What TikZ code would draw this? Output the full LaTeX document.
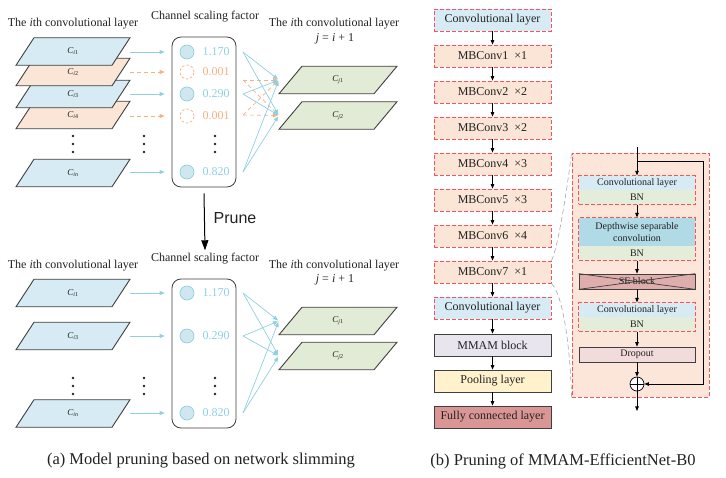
\documentclass[tikz,border=0pt]{standalone}
\usepackage{fontspec}
\setmainfont{Liberation Serif}
\newfontfamily\prunefont{Liberation Sans}
\usetikzlibrary{arrows.meta,fit}
\definecolor{lblue}{HTML}{D6EBF3}
\definecolor{lorange}{HTML}{FBE5D6}
\definecolor{lgreen}{HTML}{E2EBD5}
\definecolor{arrblue}{HTML}{8FD0E3}
\definecolor{arrorange}{HTML}{F4B183}
\definecolor{circfill}{HTML}{D0E7F0}
\definecolor{redd}{HTML}{F4555A}
\definecolor{mmamc}{HTML}{E8E5EF}
\definecolor{poolc}{HTML}{FFF2CC}
\definecolor{fcc}{HTML}{D99694}
\definecolor{depthc}{HTML}{B0DAE6}
\definecolor{bngreen}{HTML}{E4EDDA}
\definecolor{sered}{HTML}{DFAEAC}
\definecolor{dropc}{HTML}{F2DCDB}
\definecolor{detailbg}{HTML}{FCE6D9}
\definecolor{edgec}{HTML}{3F3F3F}
\definecolor{txtc}{HTML}{222222}
\definecolor{grayd}{HTML}{A6A6A6}
\newcommand{\layerpg}[7]{%
  \filldraw[layeredge, fill=#4] ({#2-#5},{#3+13.75}) -- ({#2+#6},{#3+13.75}) -- ({#2+#5},{#3-13.75}) -- ({#2-#6},{#3-13.75}) -- cycle;
  \node[layertext, minimum width={2*#5}] (#1) at (#2,#3) {#7};
}
\newcommand{\Cl}[1]{\textit{C}\textsubscript{#1}}
\newcommand{\vdotsat}[2]{%
  \fill[txtc] (#1,#2) circle (1.3) (#1,{#2+8}) circle (1.3) (#1,{#2+16}) circle (1.3);
}
\begin{document}
\begin{tikzpicture}[x=1pt,y=-1pt,
  title/.style={font=\fontsize{12}{14}\selectfont, inner sep=0, text=txtc},
  layeredge/.style={draw=edgec, line width=0.9pt},
  layertext/.style={font=\fontsize{9}{10}\selectfont, inner sep=0, minimum height=27, text=txtc},
  barr/.style={draw=arrblue, line width=0.7pt, -{Triangle[length=5pt,width=4pt]}},
  oarr/.style={draw=arrorange, line width=0.7pt, dash pattern=on 4pt off 3pt, -{Triangle[length=5pt,width=4pt]}},
  chbox/.style={draw=edgec, line width=0.8pt, rounded corners=9pt, minimum width=64, inner sep=0},
  fullc/.style={circle, draw=arrblue, fill=circfill, minimum size=14, inner sep=0, line width=0.7pt},
  emptyc/.style={circle, draw=arrorange, dash pattern=on 2.5pt off 2pt, minimum size=14, inner sep=0, line width=0.7pt},
  valb/.style={font=\fontsize{12}{14}\selectfont, text=arrblue, inner sep=0},
  valo/.style={font=\fontsize{12}{14}\selectfont, text=arrorange, inner sep=0},
  mb/.style={rectangle, minimum width=117, minimum height=22, inner sep=0, font=\fontsize{12}{14}\selectfont, text=txtc},
  rdash/.style={draw=redd, line width=0.8pt, dash pattern=on 4pt off 2pt},
  solidb/.style={draw=edgec, line width=0.8pt},
  karr/.style={draw=black, line width=0.7pt, -{Triangle[length=4.5pt,width=3.5pt]}},
  inb/.style={rectangle, minimum width=116, minimum height=14, inner sep=0, font=\fontsize{10}{11}\selectfont, text=txtc},
  captext/.style={font=\fontsize{16.5}{18}\selectfont, inner sep=0, text=txtc}
]
\useasboundingbox (0,0) rectangle (726,478);

% ================= (a) top =================
\node[title] (tl1) at (73,24) {The \textit{i}th convolutional layer};
\node[title] (tc1) at (205,17) {Channel scaling factor};
\node[title] (tr1) at (334,24) {The \textit{i}th convolutional layer};
\node[title] (tj1) at (335,39) {\textit{j} = \textit{i} + 1};

\layerpg{Lin}{73}{173}{lblue}{57}{39}{\Cl{\textit{in}}}
\layerpg{Li4}{73}{115}{lorange}{57}{39}{\Cl{\textit{i}4}}
\layerpg{Li3}{73}{94}{lblue}{57}{39}{\Cl{\textit{i}3}}
\layerpg{Li2}{73}{72}{lorange}{57}{39}{\Cl{\textit{i}2}}
\layerpg{Li1}{73}{51.5}{lblue}{57}{39}{\Cl{\textit{i}1}}

\vdotsat{73}{136}
\vdotsat{144}{136}
\vdotsat{215}{136}

\node[chbox, minimum height=150] (box1) at (204,112) {};
\node[fullc] (c1) at (187,52) {};
\node[emptyc] (c2) at (187,72) {};
\node[fullc] (c3) at (187,94) {};
\node[emptyc] (c4) at (187,116) {};
\node[fullc] (cn) at (187,172) {};
\node[valb] (v1) at (216,52) {1.170};
\node[valo] (v2) at (216,72) {0.001};
\node[valb] (v3) at (216,94) {0.290};
\node[valo] (v4) at (216,116) {0.001};
\node[valb] (vn) at (216,172) {0.820};

\draw[barr] (Li1.east |- c1) -- ([xshift=-15pt]c1.west);
\draw[oarr] (Li2.east |- c2) -- ([xshift=-15pt]c2.west);
\draw[barr] (Li3.east |- c3) -- ([xshift=-15pt]c3.west);
\draw[oarr] (Li4.east |- c4) -- ([xshift=-15pt]c4.west);
\draw[barr] (Lin.east |- cn) -- ([xshift=-15pt]cn.west);

\layerpg{Lj1}{338}{80}{lgreen}{59}{36}{\Cl{\textit{j}1}}
\layerpg{Lj2}{338}{115.5}{lgreen}{59}{36}{\Cl{\textit{j}2}}

\coordinate (f1) at (243,52);
\coordinate (f2) at (243,80);
\coordinate (f3) at (243,94);
\coordinate (f4) at (243,115);
\coordinate (fn) at (243,172);
\foreach \s in {f2,f4}{
  \draw[oarr, shorten >=1pt] (\s) -- (Lj1.west);
  \draw[oarr, shorten >=1pt] (\s) -- (Lj2.west);
}
\foreach \s in {f1,f3,fn}{
  \draw[barr, shorten >=1pt] (\s) -- (Lj1.west);
  \draw[barr, shorten >=1pt] (\s) -- (Lj2.west);
}

% ================= Prune =================
\node[title] (tc2) at (205,259) {Channel scaling factor};
\draw[line width=1pt, -{Triangle[length=10pt,width=7pt]}] ([yshift=-6pt]box1.south) -- ([yshift=3pt]tc2.north);
\node[inner sep=0, font=\prunefont\fontsize{16}{18}\selectfont, text=txtc] (prune) at (235,218) {Prune};

% ================= (a) bottom =================
\node[title] (tl2) at (73,266) {The \textit{i}th convolutional layer};
\node[title] (tr2) at (334,266) {The \textit{i}th convolutional layer};
\node[title] (tj2) at (335,280) {\textit{j} = \textit{i} + 1};

\layerpg{Mi1}{73}{293}{lblue}{57}{39}{\Cl{\textit{i}1}}
\layerpg{Mi3}{73}{336}{lblue}{57}{39}{\Cl{\textit{i}3}}
\layerpg{Min}{73}{413.5}{lblue}{57}{39}{\Cl{\textit{in}}}

\vdotsat{73}{378}
\vdotsat{144}{378}
\vdotsat{215}{378}

\node[chbox, minimum height=149] (box2) at (204,353.5) {};
\node[fullc] (d1) at (187,293) {};
\node[fullc] (d3) at (187,336) {};
\node[fullc] (dn) at (187,413) {};
\node[valb] (w1) at (216,293) {1.170};
\node[valb] (w3) at (216,336) {0.290};
\node[valb] (wn) at (216,413) {0.820};

\draw[barr] (Mi1.east |- d1) -- ([xshift=-15pt]d1.west);
\draw[barr] (Mi3.east |- d3) -- ([xshift=-15pt]d3.west);
\draw[barr] (Min.east |- dn) -- ([xshift=-15pt]dn.west);

\layerpg{Mj1}{338}{321}{lgreen}{59}{36}{\Cl{\textit{j}1}}
\layerpg{Mj2}{338}{356}{lgreen}{59}{36}{\Cl{\textit{j}2}}

\coordinate (g1) at (243,293);
\coordinate (g3) at (243,336);
\coordinate (gn) at (243,413);
\foreach \s in {g1,g3,gn}{
  \draw[barr, shorten >=1pt] (\s) -- (Mj1.west);
  \draw[barr, shorten >=1pt] (\s) -- (Mj2.west);
}

\node[captext] (capa) at (201,461) {(a) Model pruning based on network slimming};

% ================= (b) main column =================
\node[mb, rdash, fill=lblue] (b1) at (492.5,20) {Convolutional layer};
\node[mb, rdash, fill=lorange] (b2) at (492.5,56) {MBConv1~~×1};
\node[mb, rdash, fill=lorange] (b3) at (492.5,92) {MBConv2~~×2};
\node[mb, rdash, fill=lorange] (b4) at (492.5,128) {MBConv3~~×2};
\node[mb, rdash, fill=lorange] (b5) at (492.5,164) {MBConv4~~×3};
\node[mb, rdash, fill=lorange] (b6) at (492.5,200) {MBConv5~~×3};
\node[mb, rdash, fill=lorange] (b7) at (492.5,236) {MBConv6~~×4};
\node[mb, rdash, fill=lorange] (b8) at (492.5,272) {MBConv7~~×1};
\node[mb, rdash, fill=lblue] (b9) at (492.5,308) {Convolutional layer};
\node[mb, solidb, fill=mmamc] (b10) at (492.5,345) {MMAM block};
\node[mb, solidb, fill=poolc] (b11) at (492.5,381) {Pooling layer};
\node[mb, solidb, fill=fcc] (b12) at (492.5,417) {Fully connected layer};
\foreach \a/\b in {b1/b2,b2/b3,b3/b4,b4/b5,b5/b6,b6/b7,b7/b8,b8/b9,b9/b10,b10/b11,b11/b12}{
  \draw[karr] (\a.south) -- (\b.north);
}

% ================= (b) detail =================
\node[rectangle, rdash, fill=detailbg, minimum width=137, minimum height=244, inner sep=0] (detail) at (640.5,275) {};
\draw[grayd, line width=0.6pt, dash pattern=on 5pt off 3pt] (b8.north east) .. controls (558,248) and (567,190) .. (detail.north west);
\draw[grayd, line width=0.6pt, dash pattern=on 5pt off 3pt] (b8.south east) .. controls (563,295) and (570,345) .. (detail.south west);

\node[inb, fill=lblue] (ca) at (637,183) {Convolutional layer};
\node[inb, fill=bngreen] (cb) at (637,197) {BN};
\node[fit=(ca)(cb), inner sep=0, rdash] (cg) {};

\node[inb, fill=depthc, minimum height=28, align=center, font=\fontsize{10}{11.5}\selectfont] (da) at (637,232) {Depthwise separable\\convolution};
\node[inb, fill=bngreen] (db) at (637,253) {BN};
\node[fit=(da)(db), inner sep=0, rdash] (dg) {};

\node[inb, solidb, fill=sered, minimum height=15] (se) at (637,281.5) {SE block};
\draw[edgec, line width=0.7pt] (se.north west) -- (se.south east) (se.north east) -- (se.south west);

\node[inb, fill=lblue] (ea) at (637,310) {Convolutional layer};
\node[inb, fill=bngreen] (eb) at (637,324) {BN};
\node[fit=(ea)(eb), inner sep=0, rdash] (eg) {};

\node[inb, solidb, fill=dropc, minimum height=15] (drop) at (637,354.5) {Dropout};

\node[circle, draw=black, fill=white, line width=0.7pt, minimum size=14, inner sep=0,
  path picture={\draw[line width=0.7pt] (path picture bounding box.north) -- (path picture bounding box.south) (path picture bounding box.west) -- (path picture bounding box.east);}] (plus) at (637,384) {};

\coordinate (inp) at (637,147);
\coordinate (split) at (637,161);
\coordinate (skipr) at (703,161);
\coordinate (outp) at (637,411);
\draw[karr] (inp) -- (cg.north);
\draw[line width=0.7pt] (split) -- (skipr);
\draw[karr] (skipr) |- (plus.east);
\draw[karr] (cg.south) -- (dg.north);
\draw[karr] (dg.south) -- (se.north);
\draw[karr] (se.south) -- (eg.north);
\draw[karr] (eg.south) -- (drop.north);
\draw[karr] (drop.south) -- (plus.north);
\draw[karr] (plus.south) -- (outp);

\node[captext] (capb) at (563,461) {(b) Pruning of MMAM-EfficientNet-B0};
\end{tikzpicture}
\end{document}
